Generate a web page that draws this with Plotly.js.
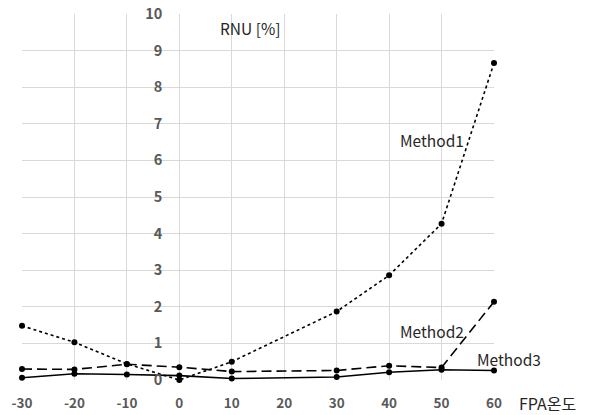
<!DOCTYPE html>
<html>
<head>
<meta charset="utf-8">
<script src="https://cdn.plot.ly/plotly-3.0.1.min.js"></script>
<style>html,body{margin:0;padding:0;background:#fff}#chart{width:589px;height:415px}</style>
</head>
<body>
<div id="chart"></div>
<script>
const temps = [-30, -20, -10, 0, 10, 30, 40, 50, 60];
const method1 = [1.48, 1.03, 0.44, 0.00, 0.50, 1.87, 2.86, 4.27, 8.66];
const method2 = [0.30, 0.29, 0.43, 0.35, 0.23, 0.26, 0.39, 0.34, 2.14];
const method3 = [0.06, 0.17, 0.15, 0.12, 0.04, 0.08, 0.21, 0.28, 0.26];
const seriesNames = ['Method1', 'Method2', 'Method3'];
const xTicks = [-30, -20, -10, 0, 10, 20, 30, 40, 50, 60];
const yTicks = [0, 1, 2, 3, 4, 5, 6, 7, 8, 9, 10];

const font = "'Noto Sans CJK KR', 'Noto Sans', sans-serif";
function tr(y, dash, name) {
  return {
    x: temps, y: y, name: name, type: 'scatter', mode: 'lines+markers',
    line: {color: '#000', width: 1.6, dash: dash},
    marker: {color: '#000', size: 6},
    cliponaxis: false
  };
}
const data = [
  tr(method1, 'dot', seriesNames[0]),
  tr(method2, '10px,5px', seriesNames[1]),
  tr(method3, 'solid', seriesNames[2])
];
const L = 22, R = 494;
const annFont = {family: font, size: 15.5, color: '#262626'};
const layout = {
  width: 589, height: 415,
  margin: {l: L, r: 589 - R, t: 14, b: 35},
  showlegend: false,
  paper_bgcolor: '#fff', plot_bgcolor: '#fff',
  font: {family: font},
  xaxis: {
    range: [-30, 60], tickvals: xTicks, ticktext: xTicks.map(String),
    showgrid: true, gridcolor: '#d9d9d9', gridwidth: 1, zeroline: false,
    showline: false, ticks: '', ticklabelstandoff: 13,
    tickfont: {family: font, size: 13.5, color: '#595959', weight: 'bold'}
  },
  yaxis: {
    range: [0, 10], tickvals: yTicks, ticktext: yTicks.map(String),
    anchor: 'free', position: (0 - -30) / 90,
    showgrid: true, gridcolor: '#d9d9d9', gridwidth: 1, zeroline: false,
    showline: false, ticks: '', ticklabelstandoff: 17,
    tickfont: {family: font, size: 14.5, color: '#595959', weight: 'bold'}
  },
  annotations: [
    {xref: 'paper', yref: 'paper', x: 1.049, y: 0, yshift: -23, text: 'FPA온도', showarrow: false,
     xanchor: 'left', yanchor: 'middle', font: {family: font, size: 16, color: '#262626'}},
    {xref: 'x', yref: 'y', x: 7.3, y: 9.63, text: 'RNU [%]', showarrow: false,
     xanchor: 'left', yanchor: 'middle', font: annFont},
    {xref: 'x', yref: 'y', x: 41.6, y: 6.57, text: 'Method1', showarrow: false,
     xanchor: 'left', yanchor: 'middle', font: annFont},
    {xref: 'x', yref: 'y', x: 41.6, y: 1.33, text: 'Method2', showarrow: false,
     xanchor: 'left', yanchor: 'middle', font: annFont},
    {xref: 'x', yref: 'y', x: 56.4, y: 0.57, text: 'Method3', showarrow: false,
     xanchor: 'left', yanchor: 'middle', font: annFont}
  ]
};
Plotly.newPlot('chart', data, layout, {displayModeBar: false, staticPlot: true});
</script>
</body>
</html>
